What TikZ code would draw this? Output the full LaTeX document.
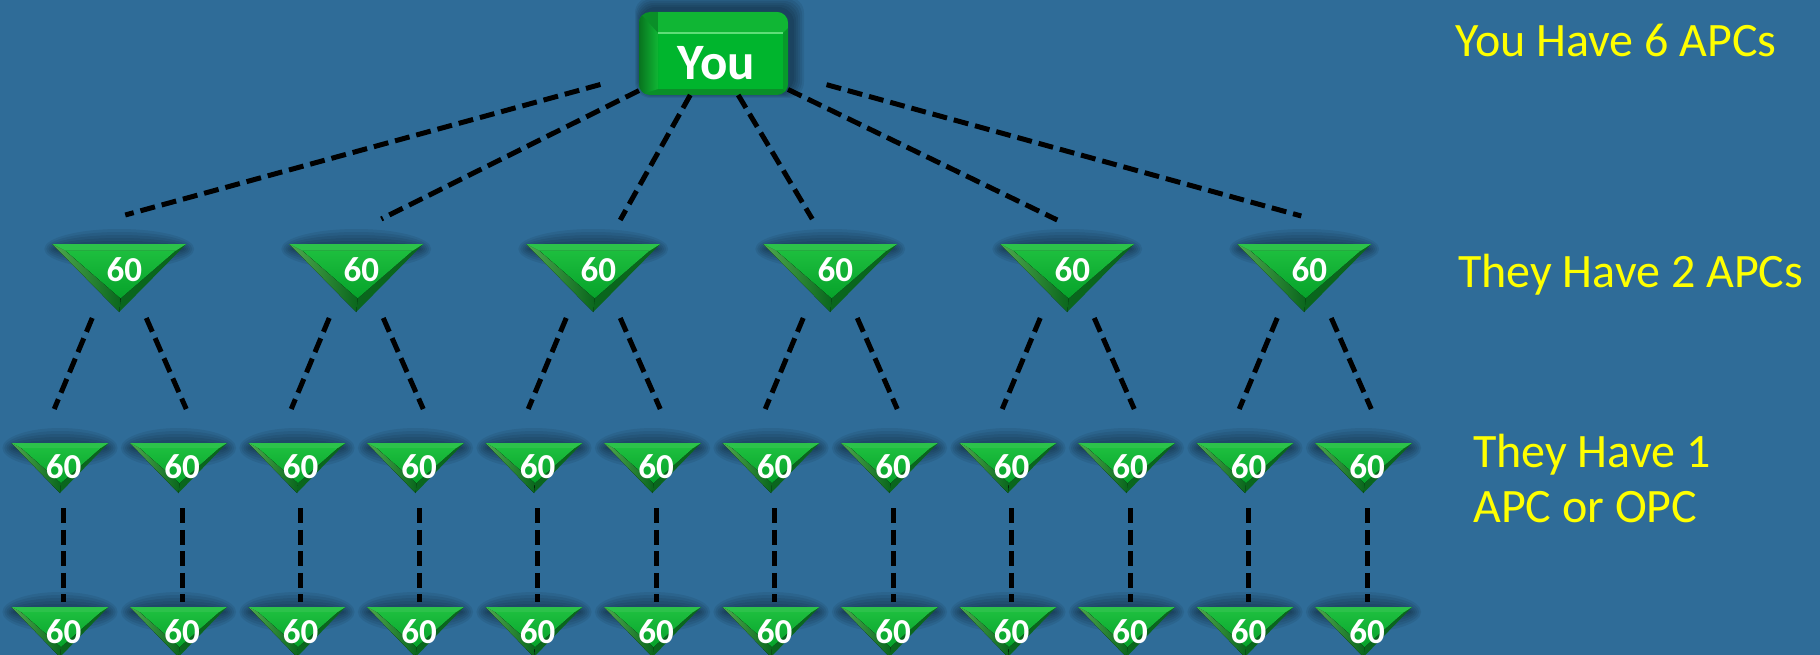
\documentclass[tikz,border=0pt]{standalone}
\usepackage{fontspec}
\setmainfont{Carlito}
\usetikzlibrary{calc}
\definecolor{BgBlue}{HTML}{2F6C98}
\definecolor{BoxGreen}{HTML}{00B52D}
\definecolor{BoxTop}{HTML}{10B634}
\definecolor{BoxEdge}{HTML}{0A8F28}
\definecolor{BoxShade}{HTML}{08741F}
\definecolor{BoxLight}{HTML}{5FDD78}
\definecolor{PyrTop}{HTML}{2CC24A}
\definecolor{PyrLeft}{HTML}{4FA94F}
\definecolor{PyrDark}{HTML}{0A661D}
\definecolor{PyrFace}{HTML}{06A22A}
\definecolor{PyrFaceTop}{HTML}{1DBE3E}
\definecolor{SideYellow}{HTML}{FFFF00}

% one green pyramid: x, top y, width, height
\newcommand{\pyramid}[4]{%
  \foreach \k in {1,...,6}
    \fill[haze] (#1,{#2+5}) ellipse ({0.47*#3+2*\k} and {2+3*\k});
  \fill[PyrDark] ({#1-0.5*#3},#2) -- ({#1+0.5*#3},#2) -- (#1,{#2+#4}) -- cycle;
  \fill[left color=PyrLeft, right color=PyrDark] ({#1-0.5*#3},#2) -- ({#1-0.4*#3},{#2+0.1*#4}) -- ({#1+0.01*#3},{#2+0.8*#4}) -- (#1,{#2+#4}) -- cycle;
  \fill[PyrTop] ({#1-0.5*#3},#2) -- ({#1+0.5*#3},#2) -- ({#1+0.42*#3},{#2+0.1*#4}) -- ({#1-0.4*#3},{#2+0.1*#4}) -- cycle;
  \fill[top color=PyrFaceTop, bottom color=PyrFace] ({#1-0.4*#3},{#2+0.1*#4}) -- ({#1+0.42*#3},{#2+0.1*#4}) -- ({#1+0.01*#3},{#2+0.8*#4}) -- cycle;
}

\tikzset{
  link/.style={black, line width=5pt, dash pattern=on 15pt off 7pt},
  uplink/.style={link, dash pattern=on 15pt off 6.5pt},
  count/.style={text=white, inner sep=0pt, font=\fontsize{35}{35}\selectfont\bfseries},
  side/.style={text=SideYellow, inner sep=0pt, anchor=base west, align=left, font=\fontsize{48}{55}\selectfont},
  haze/.style={black, opacity=0.07},
  youbox/.style={rounded corners=11pt, minimum width=149pt, minimum height=83pt, inner sep=0pt, outer sep=0pt,
    text=white, font=\fontsize{51}{51}\selectfont\bfseries, text height=53pt, text depth=0pt, fill=BoxEdge,
    path picture={
      \coordinate (nw) at (path picture bounding box.north west);
      \fill[sharp corners, BoxTop] ($(nw)+(19,0)$) rectangle ($(nw)+(149,21)$);
      \fill[sharp corners, BoxGreen] ($(nw)+(19,21)$) rectangle ($(nw)+(144,77)$);
      \fill[sharp corners, left color=BoxShade, right color=BoxTop] (nw) -- ($(nw)+(19,21)$) -- ($(nw)+(19,77)$) -- ($(nw)+(0,83)$) -- cycle;
      \fill[sharp corners, BoxEdge!70!BoxGreen] ($(nw)+(144,21)$) -- ($(nw)+(149,16)$) -- ($(nw)+(149,83)$) -- ($(nw)+(144,77)$) -- cycle;
      \draw[sharp corners, BoxLight, line width=1.5pt] ($(nw)+(19,21)$) -- ($(nw)+(144,21)$);
    }},
}

\begin{document}
\begin{tikzpicture}[x=1pt, y=-1pt]
  \fill[BgBlue] (0,0) rectangle (1820,655);
  \useasboundingbox (0,0) rectangle (1820,655);

  % top box
  \foreach \k in {1,...,6}
    \fill[haze, rounded corners=16pt] ({641-\k},{9-2*\k}) rectangle ({792+2*\k},{92+\k});
  \node[youbox] (you) at (713.5,53.5) {\hspace{6pt}You};

  % first row
  \foreach \i in {1,...,6}{
    \pgfmathsetmacro{\x}{119.25+237*(\i-1)}
    \pyramid{\x}{244}{134}{68}
    \node[count] (a\i) at ({\x+5},270) {60};
  }

  % second and third rows
  \foreach \j in {1,...,12}{
    \pgfmathsetmacro{\x}{60+118.5*(\j-1)}
    \pyramid{\x}{443}{97}{50}
    \node[count] (b\j) at ({\x+3.5},466.5) {60};
    \pyramid{\x}{607}{97}{50}
    \node[count] (c\j) at ({\x+3.5},631.5) {60};
  }

  % links
  \foreach \i/\dx/\dy/\gap in {1/1/-55/40, 2/20/-51/0, 3/22/-50/0, 4/-23/-51/0, 5/-15/-50/0, 6/-8/-54/40}
    \draw[link, shorten <=\gap pt] (you) -- ($(a\i)+(\dx,\dy)$);
  \foreach \i in {1,...,6}{
    \draw[link] ($(a\i)+(-32,48)$) -- ($(a\i)+(-70,139)$);
    \draw[link] ($(a\i)+(22,48)$) -- ($(a\i)+(62,139)$);
  }
  \foreach \j in {1,...,12}
    \draw[uplink, shorten <=29.7pt, shorten >=17.7pt] (b\j) -- (c\j);

  % side notes
  \node[side] (have6) at (1455,57) {You Have 6 APCs};
  \node[side] (have2) at (1458,287) {They Have 2 APCs};
  \node[side] (have1) at (1473,522) {They Have 1\\APC or OPC};
\end{tikzpicture}
\end{document}
